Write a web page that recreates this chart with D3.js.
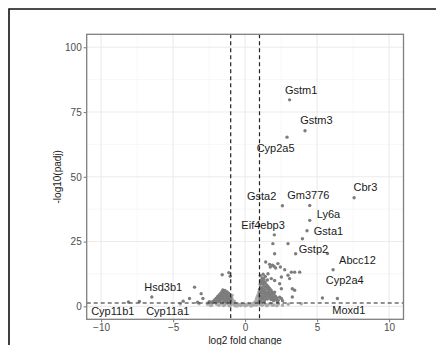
<!DOCTYPE html>
<html>
<head>
<meta charset="utf-8">
<script src="https://cdn.jsdelivr.net/npm/d3@7"></script>
<style>
  html, body { margin: 0; padding: 0; background: #fff; }
  svg { display: block; font-family: "Liberation Sans", Arial, sans-serif; }
</style>
</head>
<body>
<div id="chart"></div>
<script>
// volcano plot: log2 fold change vs -log10(padj)

const xTicks = [-10, -5, 0, 5, 10];
const yTicks = [0, 25, 50, 75, 100];
const xMinor = [-7.5, -2.5, 2.5, 7.5];
const yMinor = [12.5, 37.5, 62.5, 87.5];
const fcCut = [-1, 1];
const padjCut = 1.3; // -log10(0.05)

// labelled genes: point (x, y) and label anchor (lx, ly), data units
const geneNames = ['Gstm1', 'Gstm3', 'Cyp2a5', 'Cbr3', 'Gsta2', 'Gm3776', 'Ly6a', 'Eif4ebp3',
  'Gsta1', 'Gstp2', 'Abcc12', 'Cyp2a4', 'Moxd1', 'Hsd3b1', 'Cyp11b1', 'Cyp11a1'];
const geneX = [3.09, 4.16, 2.91, 7.57, 2.59, 4.49, 4.49, 2.03, 4.30, 5.72, 6.11, 6.41, 5.37, -6.48, -8.1, -7.34];
const geneY = [79.7, 67.8, 65.3, 41.9, 38.8, 38.95, 33.2, 27.6, 29.2, 20.4, 14.1, 3.0, 3.2, 3.6, 1.7, 1.9];
const labelX = [3.89, 4.95, 2.12, 8.36, 1.15, 4.39, 5.79, 1.25, 5.79, 4.75, 7.80, 6.92, 7.20, -5.69, -9.19, -5.37];
const labelY = [83.3, 71.7, 61.0, 46.0, 42.4, 43.1, 35.7, 31.5, 28.9, 21.9, 17.7, 10.0, -1.3, 7.4, -1.8, -1.8];

// other significant genes
const sigX = [-2.3, -2.2, -2.1, -2.0, -1.95, -1.9, -1.85, -1.8, -1.75, -1.7, -1.7, -1.65, -1.6, -1.6,
  -1.55, -1.55, -1.5, -1.5, -1.45, -1.45, -1.4, -1.4, -1.35, -1.35, -1.3, -1.3, -1.25, -1.25, -1.2,
  -1.2, -1.15, -1.15, -1.1, -1.1, -1.05, -1.05, -1.0, -1.0, -1.59, -1.13, -1.03, -2.0, -2.5, -2.24,
  -3.51, -3.05, -2.93, -3.86, -4.3, -3.3, -1.8, -1.5, -1.3, -2.05,
  -1.95, -1.85, -1.75, -1.65, -1.6, -1.5, -1.42, -1.38, -1.28, -1.22, -1.18, -1.08, -2.15, -2.4,
  1.0, 1.0, 1.0, 1.05, 1.05, 1.1, 1.1, 1.1, 1.15, 1.15, 1.15, 1.2, 1.2, 1.2, 1.2, 1.25, 1.25, 1.3,
  1.3, 1.3, 1.35, 1.35, 1.35, 1.4, 1.4, 1.45, 1.45, 1.5, 1.5, 1.55, 1.55, 1.6, 1.6, 1.65, 1.7, 1.7,
  1.75, 1.8, 1.8, 1.85, 1.9, 1.95, 2.0, 2.05, 2.1, 2.2, 2.3, 2.4, 2.6, 1.59, 1.82, 2.4, 2.52, 2.05,
  1.43, 1.7, 1.9, 2.0, 2.28, 2.45, 2.75, 3.21, 3.44, 3.79, 2.52, 3.09, 3.44, 3.28, 2.52, 3.28,
  1.93, 2.98, 2.05, 3.51, 3.98, 2.05, 2.98, 2.12, 1.75, 1.05, 1.25, 1.4, 1.55, 1.12, 1.32,
  1.02, 1.08, 1.18, 1.22, 1.28, 1.38, 1.48, 1.58, 1.68, 1.78, 1.88, 1.98, 2.15, 2.25];
const sigY = [1.6, 2.0, 2.6, 3.1, 2.2, 3.8, 2.9, 4.4, 3.4, 5.0, 2.4, 4.1, 5.7, 3.2,
  6.3, 4.8, 5.9, 2.7, 5.2, 3.9, 6.1, 4.5, 5.5, 2.1, 4.9, 3.4, 5.6, 4.0, 4.6,
  2.9, 3.8, 5.1, 4.2, 2.5, 3.3, 1.9, 3.0, 2.2, 12.2, 13.0, 11.6, 1.7, 1.8, 1.7,
  7.4, 4.9, 3.0, 3.0, 2.0, 1.6, 1.9, 1.7, 1.6, 2.4,
  2.8, 3.5, 2.1, 3.0, 4.4, 3.6, 2.6, 5.0, 2.4, 3.4, 2.0, 3.7, 1.9, 1.6,
  2.0, 4.0, 6.5, 8.5, 3.0, 9.5, 5.5, 2.5, 10.3, 7.2, 4.1, 11.0, 8.6, 6.0, 3.0, 9.8, 5.0, 10.5,
  7.8, 3.7, 8.9, 6.3, 2.5, 9.4, 4.6, 7.4, 3.2, 8.3, 5.6, 6.8, 2.8, 7.6, 4.2, 5.9, 6.9, 3.4,
  5.2, 6.2, 2.6, 4.5, 5.4, 3.6, 4.8, 2.9, 3.9, 3.2, 2.4, 3.5, 2.2, 12.6, 10.7, 8.7, 6.8, 5.5,
  17.1, 16.2, 15.9, 15.5, 16.5, 15.2, 14.1, 13.2, 13.2, 13.2, 11.3, 10.7, 6.2, 6.8, 3.0, 3.6,
  24.2, 24.2, 20.3, 20.3, 26.1, 10.0, 12.0, 14.8, 15.2, 11.8, 12.4, 11.5, 10.2, 1.8, 1.9,
  5.2, 7.0, 5.3, 9.0, 6.6, 5.4, 4.0, 5.0, 4.6, 3.8, 2.9, 2.2, 2.6, 1.8];

// non-significant genes
const nsX = [-0.95, -0.9, -0.85, -0.95, -0.8, -0.9, -0.75, 0.7, 0.75, 0.8, 0.85, 0.9, 0.9, 0.95, 0.95,
  0.85, 0.8, -2.6, -2.3, -2.0, -1.8, -1.6, -1.4, -1.2, -1.0, -0.8, -0.6, -0.5, -0.3, -0.1, 0.1,
  0.3, 0.5, 0.6, 0.8, 1.0, 1.2, 1.4, 1.6, 1.8, 2.0, 2.3, 2.6, -0.4, 0.0, 0.2, -0.7, 3.9, 3.0,
  -3.2, -4.5, -1.9, -1.5, -1.1, -0.2, 0.4, 0.65, 1.1, 1.5, 1.9, 2.2, -2.4, 0.0, -0.55,
  -0.92, -0.88, 0.88, 0.92, -0.65, 0.6, -0.35, 0.35];
const nsY = [3.5, 2.6, 1.8, 1.5, 1.2, 4.2, 2.0, 1.5, 2.2, 3.0, 3.8, 4.5, 2.6, 5.5, 3.2,
  1.8, 1.2, 0.8, 0.5, 0.9, 0.4, 1.0, 0.6, 0.9, 0.5, 0.8, 0.4, 0.9, 0.3, 0.6, 0.4,
  0.7, 0.3, 0.9, 0.5, 0.8, 0.4, 0.9, 0.6, 1.0, 0.5, 0.8, 0.4, 0.6, 0.2, 0.9, 0.2, 1.0, 0.8,
  1.0, 0.9, 0.7, 0.3, 0.2, 0.8, 0.1, 0.5, 0.6, 0.2, 0.4, 0.2, 0.3, 0.7, 0.1,
  2.9, 1.0, 1.0, 3.6, 1.1, 1.3, 0.5, 0.6];

const W = 436, H = 345;
const margin = { top: 34.3, right: 32.5, bottom: 25.7, left: 86.7 };
const iw = W - margin.left - margin.right;
const ih = H - margin.top - margin.bottom;

const x = d3.scaleLinear().domain([-11, 11]).range([0, iw]);
const y = d3.scaleLinear().domain([-5, 105]).range([ih, 0]);

const svg = d3.select('#chart').append('svg').attr('width', W).attr('height', H);

// outer frame (runs off the right and bottom edges)
svg.append('path')
  .attr('d', `M9,${H + 5}V9H${W + 5}`)
  .attr('fill', 'none')
  .attr('stroke', '#111')
  .attr('stroke-width', 1.6);

const g = svg.append('g').attr('transform', `translate(${margin.left},${margin.top})`);

// grid
g.append('g').selectAll('line').data(xMinor).join('line')
  .attr('x1', d => x(d)).attr('x2', d => x(d)).attr('y1', 0).attr('y2', ih)
  .attr('stroke', '#f2f2f2').attr('stroke-width', 0.6);
g.append('g').selectAll('line').data(yMinor).join('line')
  .attr('y1', d => y(d)).attr('y2', d => y(d)).attr('x1', 0).attr('x2', iw)
  .attr('stroke', '#f2f2f2').attr('stroke-width', 0.6);
g.append('g').selectAll('line').data(xTicks).join('line')
  .attr('x1', d => x(d)).attr('x2', d => x(d)).attr('y1', 0).attr('y2', ih)
  .attr('stroke', '#ebebeb').attr('stroke-width', 1.1);
g.append('g').selectAll('line').data(yTicks).join('line')
  .attr('y1', d => y(d)).attr('y2', d => y(d)).attr('x1', 0).attr('x2', iw)
  .attr('stroke', '#ebebeb').attr('stroke-width', 1.1);

// points
const nsPts = nsX.map((v, i) => [v, nsY[i]]);
const sigPts = sigX.map((v, i) => [v, sigY[i]]).concat(geneX.map((v, i) => [v, geneY[i]]));

g.append('g').selectAll('circle').data(nsPts).join('circle')
  .attr('cx', d => x(d[0])).attr('cy', d => y(d[1])).attr('r', 1.7)
  .attr('fill', '#ababab');
g.append('g').selectAll('circle').data(sigPts).join('circle')
  .attr('cx', d => x(d[0])).attr('cy', d => y(d[1])).attr('r', 1.7)
  .attr('fill', '#7d7d7d');

// threshold lines
g.append('g').selectAll('line').data(fcCut).join('line')
  .attr('x1', d => x(d)).attr('x2', d => x(d)).attr('y1', 0).attr('y2', ih)
  .attr('stroke', '#222').attr('stroke-width', 1.2).attr('stroke-dasharray', '4,3');
g.append('line')
  .attr('x1', 0).attr('x2', iw).attr('y1', y(padjCut)).attr('y2', y(padjCut))
  .attr('stroke', '#222').attr('stroke-width', 1.2).attr('stroke-dasharray', '4,3');

// gene labels
g.append('g').selectAll('text').data(geneNames).join('text')
  .attr('x', (d, i) => x(labelX[i]))
  .attr('y', (d, i) => y(labelY[i]))
  .attr('dy', '0.35em')
  .attr('text-anchor', 'middle')
  .attr('font-size', 11)
  .attr('fill', '#1a1a1a')
  .text(d => d);

// panel border
g.append('rect')
  .attr('width', iw).attr('height', ih)
  .attr('fill', 'none').attr('stroke', '#7f7f7f').attr('stroke-width', 1.3);

// axes
const xAxis = g.append('g').attr('transform', `translate(0,${ih})`)
  .call(d3.axisBottom(x).tickValues(xTicks).tickSize(3).tickPadding(2).tickFormat(d3.format('d')));
const yAxis = g.append('g')
  .call(d3.axisLeft(y).tickValues(yTicks).tickSize(3).tickPadding(2).tickFormat(d3.format('d')));
[xAxis, yAxis].forEach(a => {
  a.select('.domain').remove();
  a.selectAll('line').attr('stroke', '#7f7f7f').attr('stroke-width', 1.1);
  a.selectAll('text').attr('fill', '#4d4d4d').attr('font-size', 10)
    .attr('font-family', '"Liberation Sans", Arial, sans-serif');
});

// axis titles
svg.append('text')
  .attr('x', margin.left + iw / 2).attr('y', 340)
  .attr('dy', '0.35em')
  .attr('text-anchor', 'middle').attr('font-size', 10).attr('fill', '#1a1a1a')
  .text('log2 fold change');
svg.append('text')
  .attr('transform', `translate(57,${margin.top + ih / 2}) rotate(-90)`)
  .attr('dy', '0.35em')
  .attr('text-anchor', 'middle').attr('font-size', 10).attr('fill', '#1a1a1a')
  .text('-log10(padj)');
</script>
</body>
</html>
